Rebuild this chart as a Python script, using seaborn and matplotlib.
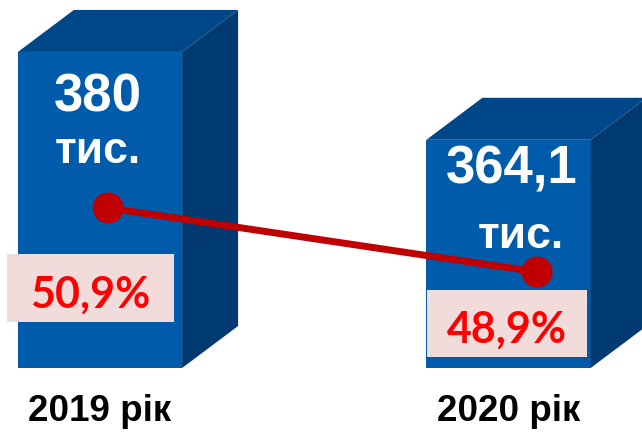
import matplotlib
matplotlib.use("Agg")
import matplotlib.pyplot as plt
from matplotlib.patches import Polygon, Rectangle
import seaborn as sns
import pandas as pd

# data
years = ["2019 рік", "2020 рік"]
totals = [380, 364.1]
total_labels = ["380", "364,1"]
shares = [50.9, 48.9]
share_labels = ["50,9%", "48,9%"]

front = "#005BAA"
top_c = "#00478A"
side_c = "#003A70"
dot_c = "#C00000"
pink = "#F2DCDB"

sns.set_theme(style="white")
plt.rcParams["font.family"] = ["Liberation Sans", "DejaVu Sans"]

fig = plt.figure(figsize=(6.42, 4.33), dpi=100)
ax = fig.add_axes([0, 65 / 433, 1, 368 / 433])

df = pd.DataFrame({"year": years, "total": totals, "share": shares})
sns.barplot(data=df, x="year", y="total", color=front, saturation=1,
            width=0.402, errorbar=None, linewidth=0, ax=ax)
ax.set_xlim(-0.2448, 1.3268)
ax.set_ylim(322.8, 389.4)
base = ax.get_ylim()[0]

# fake 3d: top and side faces
dx, dy = 0.137, 7.6
for p in list(ax.patches):
    x0 = p.get_x()
    x1 = x0 + p.get_width()
    h = p.get_height()
    ax.add_patch(Polygon([(x0, h), (x1, h), (x1 + dx, h + dy), (x0 + dx, h + dy)],
                         closed=True, fc=top_c, ec="none", zorder=3))
    ax.add_patch(Polygon([(x1, base), (x1, h), (x1 + dx, h + dy), (x1 + dx, base + dy)],
                         closed=True, fc=side_c, ec="none", zorder=3))

# value labels inside bars
val_off = [(-2, -60), (3.5, -44)]
unit_off = [(-2.5, -111), (12.5, -108)]
for i, p in enumerate(ax.patches[:2]):
    cx = p.get_x() + p.get_width() / 2
    h = p.get_height()
    ax.annotate(total_labels[i], (cx, h), xytext=val_off[i], textcoords="offset pixels",
                ha="center", va="baseline", color="white", fontsize=38,
                fontweight="bold", zorder=5)
    ax.annotate("тис.", (cx, h), xytext=unit_off[i], textcoords="offset pixels",
                ha="center", va="baseline", color="white", fontsize=32,
                fontweight="bold", zorder=5)

# pink boxes with percentages
box_x = [-0.228, -0.1995]
box_w = [0.409, 0.392]
box_y = [331.1, 324.8]
box_h = [12.3, 12.1]
for i in range(2):
    bx = i + box_x[i]
    ax.add_patch(Rectangle((bx, box_y[i]), box_w[i], box_h[i], fc=pink, ec="none",
                           zorder=4, clip_on=False))
    ax.annotate(share_labels[i], (bx + box_w[i] / 2, box_y[i]), xytext=(0, 14.5),
                textcoords="offset pixels", ha="center", va="baseline",
                color="#FF0000", fontsize=31, fontweight="bold",
                family=["Lato", "DejaVu Sans"], zorder=5)

ax.set_xlabel("")
ax.set_ylabel("")
ax.set_yticks([])
ax.tick_params(axis="x", length=0, pad=18.5, labelsize=26.5)
for t in ax.get_xticklabels():
    t.set_fontweight("bold")
    t.set_color("black")
for s in ax.spines.values():
    s.set_visible(False)

# share line on a twin axis
ax2 = ax.twinx()
dot_shift = [0.02, 0.07]
xs = [i + dot_shift[i] for i in range(len(shares))]
sns.lineplot(x=xs, y=shares, color=dot_c, linewidth=5, ax=ax2)
sns.scatterplot(x=xs, y=shares, color=dot_c, s=31 ** 2 * 0.52, edgecolor="none", ax=ax2, zorder=6)
ax2.set_ylim(45.9, 57.4)
ax2.set_xlim(ax.get_xlim())
ax2.set_yticks([])
ax2.set_ylabel("")
for s in ax2.spines.values():
    s.set_visible(False)

fig.savefig("out.png", dpi=100)
